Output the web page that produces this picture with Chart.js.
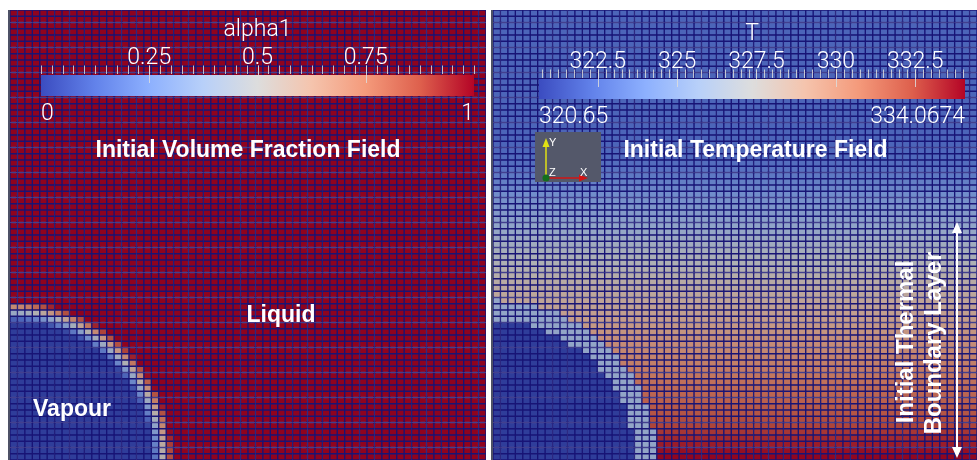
<!DOCTYPE html>
<html>
<head>
<meta charset="utf-8">
<script src="https://cdn.jsdelivr.net/npm/chart.js@4.4.0/dist/chart.umd.min.js"></script>
<style>
  html, body { margin: 0; padding: 0; background: #ffffff; width: 977px; height: 460px; overflow: hidden; }
  canvas, .strip { position: absolute; }
  .strip { background: #4d5166; width: 2px; height: 450px; top: 10px; }
</style>
</head>
<body>
<div class="strip" style="left:8px"></div>
<canvas id="alphaField" width="476" height="450" style="left:10px;top:10px"></canvas>
<canvas id="alphaBar" width="476" height="130" style="left:10px;top:10px"></canvas>
<div class="strip" style="left:491px"></div>
<canvas id="tempField" width="484" height="450" style="left:493px;top:10px"></canvas>
<canvas id="tempBar" width="484" height="130" style="left:493px;top:10px"></canvas>
<script>
// ---- mesh shown in each view ----
const alphaColumns = 64;
const tempColumns = 65;
const meshRows = 72;

// ---- vapour bubble on the bottom-left corner (mesh cells) ----
const bubbleCentre = [0, 0];
const bubbleSemiAxes = [20.45, 23.85];
const interfaceWidth = 0.14;

// ---- alpha1 colour bar ----
const alphaRange = [0, 1];
const alphaTicks = [0.25, 0.5, 0.75];
const alphaMinorStep = 0.025;
const alphaRangeLabels = ['0', '1'];

// ---- T colour bar ----
const tempRange = [320.65, 334.0674];
const tempTicks = [322.5, 325, 327.5, 330, 332.5];
const tempMinorStep = 0.25;
const tempRangeLabels = ['320.65', '334.0674'];

// ---- temperatures ----
const vapourTemp = 320.65;
const interfaceTemp = 325.6;
// liquid temperature of each mesh row, top row first
const liquidTemp = [
  322.2, 322.2, 322.2, 322.2, 322.2, 322.2, 322.2, 322.2, 322.2, 322.2, 322.2,
  322.2, 322.2, 322.2, 322.2, 322.2, 322.2, 322.2, 322.2, 322.2, 322.2, 322.2,
  322.3, 322.4, 322.6, 322.8, 323.1, 323.4, 323.7, 324.0, 324.3, 324.6,
  324.9, 325.2, 325.5, 325.8, 326.1, 326.4, 326.7, 327.0, 327.2, 327.5,
  327.7, 327.9, 328.1, 328.3, 328.5, 328.7, 328.9, 329.1, 329.3, 329.5,
  329.7, 329.9, 330.1, 330.3, 330.5, 330.7, 330.9, 331.1, 331.3, 331.5,
  331.7, 331.9, 332.1, 332.4, 332.6, 332.9, 333.2, 333.5, 333.8, 334.0
];

// ParaView "Cool to Warm" lookup table
const coolWarm = [
  [59, 76, 192], [98, 130, 234], [141, 176, 254], [184, 208, 249], [221, 221, 221],
  [245, 196, 173], [244, 154, 123], [222, 96, 77], [180, 4, 38]
];
const cellShade = 0.8;
const edgeColour = 'rgb(24, 20, 118)';

function mapColour(t, shade) {
  t = Math.min(1, Math.max(0, t));
  const p = t * (coolWarm.length - 1);
  const k = Math.min(coolWarm.length - 2, Math.floor(p));
  const f = p - k;
  const c = coolWarm[k].map((v, n) => Math.round((v + (coolWarm[k + 1][n] - v) * f) * shade));
  return `rgb(${c[0]}, ${c[1]}, ${c[2]})`;
}

// liquid fraction of cell (column i, row j counted from the bottom)
function liquidFraction(i, j) {
  const x = (i + 0.5 - bubbleCentre[0]) / bubbleSemiAxes[0];
  const y = (j + 0.5 - bubbleCentre[1]) / bubbleSemiAxes[1];
  const s = Math.hypot(x, y);
  return Math.min(1, Math.max(0, 0.5 + (s - 1) / interfaceWidth));
}

function cellTemp(i, j) {
  const a = liquidFraction(i, j);
  if (a <= 0) return vapourTemp;
  if (a >= 1) return liquidTemp[meshRows - 1 - j];
  return interfaceTemp;
}

const boldFont = 'bold 23px "Liberation Sans", Arial, sans-serif';
const thinFont = '300 23px Roboto, "Liberation Sans", Arial, sans-serif';

// each mesh row is one stacked bar dataset; every bar segment is a cell
function meshChart(id, columns, valueAt, range, notes) {
  const labels = Array.from({ length: columns }, (_, i) => String(i));
  const datasets = [];
  for (let j = 0; j < meshRows; j++) {
    datasets.push({
      data: labels.map(() => 1),
      backgroundColor: labels.map((_, i) =>
        mapColour((valueAt(i, j) - range[0]) / (range[1] - range[0]), cellShade)),
      borderColor: edgeColour,
      borderWidth: 1,
      borderSkipped: false,
      barPercentage: 1,
      categoryPercentage: 1,
      stack: 'mesh'
    });
  }
  return new Chart(document.getElementById(id), {
    type: 'bar',
    data: { labels, datasets },
    options: {
      responsive: false, animation: false, events: [],
      layout: { padding: 0 },
      plugins: { legend: { display: false }, tooltip: { enabled: false } },
      scales: {
        x: { display: false, stacked: true },
        y: { display: false, stacked: true, min: 0, max: meshRows }
      }
    },
    plugins: [notes]
  });
}

// colour bar: one floating bar over the value range, ticks from its x scale
const barTicks = {
  id: 'barTicks',
  afterDatasetsDraw(chart) {
    const o = chart.options.plugins.barTicks;
    const { ctx, chartArea: a, scales: { x } } = chart;
    ctx.save();
    ctx.strokeStyle = 'rgba(220, 220, 220, 0.85)';
    ctx.lineWidth = 1;
    const k0 = Math.ceil(o.range[0] / o.minor - 1e-6);
    const k1 = Math.floor(o.range[1] / o.minor + 1e-6);
    ctx.beginPath();
    for (let k = k0; k <= k1; k++) {
      const px = Math.round(x.getPixelForValue(k * o.minor)) + 0.5;
      ctx.moveTo(px, a.top - 9.5);
      ctx.lineTo(px, a.top - 1);
    }
    o.ticks.forEach(v => {
      const px = Math.round(x.getPixelForValue(v)) + 0.5;
      ctx.moveTo(px, a.top - 9.5);
      ctx.lineTo(px, a.top + 8);
    });
    ctx.stroke();
    ctx.fillStyle = '#ffffff';
    ctx.font = thinFont;
    ctx.textBaseline = 'alphabetic';
    ctx.textAlign = 'center';
    o.ticks.forEach(v => ctx.fillText(String(v), x.getPixelForValue(v), a.top - 11.5));
    ctx.fillText(o.title, (a.left + a.right) / 2, a.top - 39);
    ctx.textAlign = 'left';
    ctx.fillText(o.rangeLabels[0], a.left, a.bottom + 23.5);
    ctx.textAlign = 'right';
    ctx.fillText(o.rangeLabels[1], a.right, a.bottom + 23.5);
    ctx.restore();
  }
};

function colourBar(id, range, ticks, minor, rangeLabels, title, padding) {
  return new Chart(document.getElementById(id), {
    type: 'bar',
    data: {
      labels: [title],
      datasets: [{
        data: [range],
        backgroundColor(c) {
          const a = c.chart.chartArea;
          if (!a) return null;
          const g = c.chart.ctx.createLinearGradient(a.left, 0, a.right, 0);
          coolWarm.forEach((rgb, k) => g.addColorStop(k / (coolWarm.length - 1), `rgb(${rgb.join(',')})`));
          return g;
        },
        borderWidth: 0,
        barPercentage: 1,
        categoryPercentage: 1,
        inflateAmount: 0
      }]
    },
    options: {
      indexAxis: 'y', responsive: false, animation: false, events: [],
      layout: { padding },
      plugins: {
        legend: { display: false }, tooltip: { enabled: false },
        barTicks: { range, ticks, minor, rangeLabels, title }
      },
      scales: {
        x: { type: 'linear', display: false, min: range[0], max: range[1] },
        y: { display: false }
      }
    },
    plugins: [barTicks]
  });
}

const alphaNotes = {
  id: 'alphaNotes',
  afterDatasetsDraw(chart) {
    const ctx = chart.ctx;
    ctx.save();
    ctx.fillStyle = '#ffffff';
    ctx.font = boldFont;
    ctx.textAlign = 'center';
    ctx.textBaseline = 'alphabetic';
    ctx.fillText('Initial Volume Fraction Field', 238, 147);
    ctx.fillText('Liquid', 271, 312);
    ctx.fillText('Vapour', 62, 406);
    ctx.restore();
  }
};

const tempNotes = {
  id: 'tempNotes',
  afterDatasetsDraw(chart) {
    const ctx = chart.ctx;
    ctx.save();
    ctx.fillStyle = '#ffffff';
    ctx.font = boldFont;
    ctx.textAlign = 'center';
    ctx.textBaseline = 'alphabetic';
    ctx.fillText('Initial Temperature Field', 262.5, 147);

    // boundary layer caption, read bottom to top
    ctx.save();
    ctx.font = 'bold 24px "Liberation Sans", Arial, sans-serif';
    ctx.translate(420, 332);
    ctx.rotate(-Math.PI / 2);
    ctx.fillText('Initial Thermal', 0, 0);
    ctx.restore();
    ctx.save();
    ctx.font = 'bold 24px "Liberation Sans", Arial, sans-serif';
    ctx.translate(448, 333);
    ctx.rotate(-Math.PI / 2);
    ctx.fillText('Boundary Layer', 0, 0);
    ctx.restore();

    // double-headed arrow spanning the layer
    ctx.strokeStyle = '#ffffff';
    ctx.lineWidth = 2;
    ctx.beginPath();
    ctx.moveTo(464, 220);
    ctx.lineTo(464, 440);
    ctx.stroke();
    ctx.beginPath();
    ctx.moveTo(464, 212); ctx.lineTo(459, 223); ctx.lineTo(469, 223); ctx.closePath();
    ctx.moveTo(464, 448); ctx.lineTo(459, 437); ctx.lineTo(469, 437); ctx.closePath();
    ctx.fill();

    // orientation axes
    ctx.fillStyle = 'rgb(84, 88, 106)';
    ctx.fillRect(42, 122, 66, 50);
    ctx.lineWidth = 1.5;
    ctx.strokeStyle = 'rgb(225, 225, 20)';
    ctx.beginPath(); ctx.moveTo(53, 168); ctx.lineTo(53, 136); ctx.stroke();
    ctx.fillStyle = 'rgb(225, 225, 20)';
    ctx.beginPath(); ctx.moveTo(53, 128); ctx.lineTo(49.5, 137); ctx.lineTo(56.5, 137); ctx.closePath(); ctx.fill();
    ctx.strokeStyle = 'rgb(210, 20, 20)';
    ctx.beginPath(); ctx.moveTo(53, 168); ctx.lineTo(87, 168); ctx.stroke();
    ctx.fillStyle = 'rgb(210, 20, 20)';
    ctx.beginPath(); ctx.moveTo(95, 168); ctx.lineTo(86, 164.5); ctx.lineTo(86, 171.5); ctx.closePath(); ctx.fill();
    ctx.fillStyle = 'rgb(20, 110, 30)';
    ctx.beginPath(); ctx.arc(53, 168, 3.5, 0, Math.PI * 2); ctx.fill();
    ctx.fillStyle = '#ffffff';
    ctx.font = '11px "Liberation Sans", Arial, sans-serif';
    ctx.textAlign = 'left';
    ctx.fillText('Y', 56, 136);
    ctx.fillText('Z', 56, 166);
    ctx.fillText('X', 87, 166);
    ctx.restore();
  }
};

meshChart('alphaField', alphaColumns, liquidFraction, alphaRange, alphaNotes);
meshChart('tempField', tempColumns, cellTemp, tempRange, tempNotes);
colourBar('alphaBar', alphaRange, alphaTicks, alphaMinorStep, alphaRangeLabels, 'alpha1',
  { left: 31, right: 12, top: 65, bottom: 44 });
colourBar('tempBar', tempRange, tempTicks, tempMinorStep, tempRangeLabels, 'T',
  { left: 46, right: 12, top: 69, bottom: 41 });
</script>
</body>
</html>
